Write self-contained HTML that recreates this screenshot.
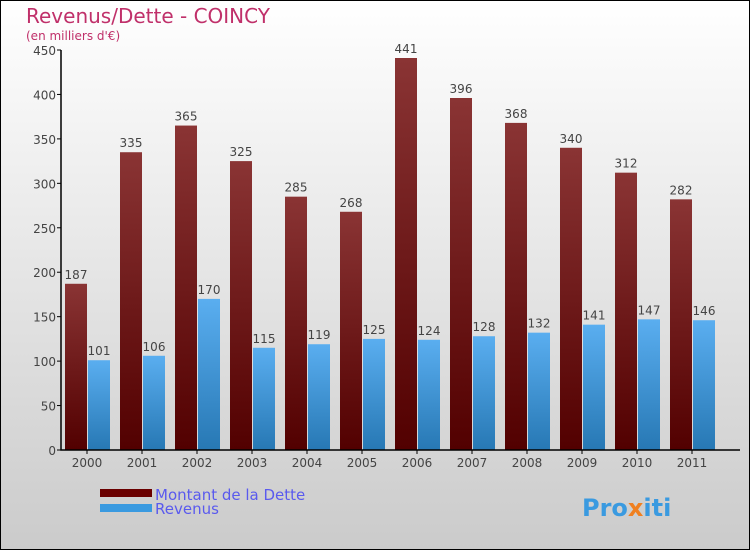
<!DOCTYPE html>
<html><head><meta charset="utf-8"><style>
body{margin:0}
#c{width:750px;height:550px;position:relative;font-family:"DejaVu Sans","Liberation Sans",sans-serif;}
</style></head><body>
<div id="c">
<svg id="s" width="750" height="550" xmlns="http://www.w3.org/2000/svg">
<defs>
<linearGradient id="bg" x1="0" y1="0" x2="0" y2="1"><stop offset="0" stop-color="#ffffff"/><stop offset="1" stop-color="#cbcbcb"/></linearGradient>
<linearGradient id="rg" x1="0" y1="0" x2="0" y2="1"><stop offset="0" stop-color="#8a3434"/><stop offset="1" stop-color="#520000"/></linearGradient>
<linearGradient id="bgb" x1="0" y1="0" x2="0" y2="1"><stop offset="0" stop-color="#5aaef0"/><stop offset="1" stop-color="#2778b4"/></linearGradient>
</defs>
<rect x="0.5" y="0.5" width="749" height="549" fill="url(#bg)" stroke="#000"/>
<text x="26" y="23" font-size="20" fill="#c0306a">Revenus/Dette - COINCY</text>
<text x="26" y="40" font-size="12" fill="#c0306a">(en milliers d'€)</text>
<g id="plot"></g>
<rect x="100" y="489" width="52" height="8" fill="#6a0000"/>
<text x="155" y="500" font-size="15" fill="#5a5aee">Montant de la Dette</text>
<rect x="100" y="504" width="52" height="8" fill="#3a9ae0"/>
<text x="155" y="514" font-size="15" fill="#5a5aee">Revenus</text>
<text x="582" y="516" font-size="24" font-weight="bold" fill="#3a9ae0">Pro<tspan fill="#f08020">x</tspan>iti</text>
</svg></div>
<script>
const categories=["2000","2001","2002","2003","2004","2005","2006","2007","2008","2009","2010","2011"];
const detteValues=[187,335,365,325,285,268,441,396,368,340,312,282];
const revenusValues=[101,106,170,115,119,125,124,128,132,141,147,146];
const yTicks=[0,50,100,150,200,250,300,350,400,450];
const NS="http://www.w3.org/2000/svg";
const g=document.getElementById('plot');
const y=v=>450-v*400/450;
const x=i=>87+i*55;
function mk(t,a){const e=document.createElementNS(NS,t);for(const k in a)e.setAttribute(k,a[k]);g.appendChild(e);return e;}
yTicks.forEach(t=>{
 const l=mk('line',{x1:57,x2:61,y1:y(t),y2:y(t),stroke:'#000'});
 
 
 const tx=mk('text',{x:56,y:y(t)+5,'font-size':12,fill:'#444','text-anchor':'end'});tx.textContent=t;
 
 
});
categories.forEach((c,i)=>{
 const cx=x(i);
 const r=mk('rect',{x:cx-22,y:y(detteValues[i]),width:22,height:450-y(detteValues[i]),fill:'url(#rg)'});
 
 
 const b=mk('rect',{x:cx+1,y:y(revenusValues[i]),width:22,height:450-y(revenusValues[i]),fill:'url(#bgb)'});
 
 
 const t1=mk('text',{x:cx-11,y:y(detteValues[i])-5,'font-size':12,fill:'#444','text-anchor':'middle'});t1.textContent=detteValues[i];
 
 
 const t2=mk('text',{x:cx+12,y:y(revenusValues[i])-5,'font-size':12,fill:'#444','text-anchor':'middle'});t2.textContent=revenusValues[i];
 
 
 const tk=mk('line',{x1:cx,x2:cx,y1:450,y2:454,stroke:'#000'});
 
 
 const xl=mk('text',{x:cx,y:467,'font-size':12,fill:'#444','text-anchor':'middle'});xl.textContent=c;
 
 
});
const ax=mk('path',{d:'M61 50 V450 H740',stroke:'#000','stroke-width':1.5,fill:'none'});


</script>
</body></html>
